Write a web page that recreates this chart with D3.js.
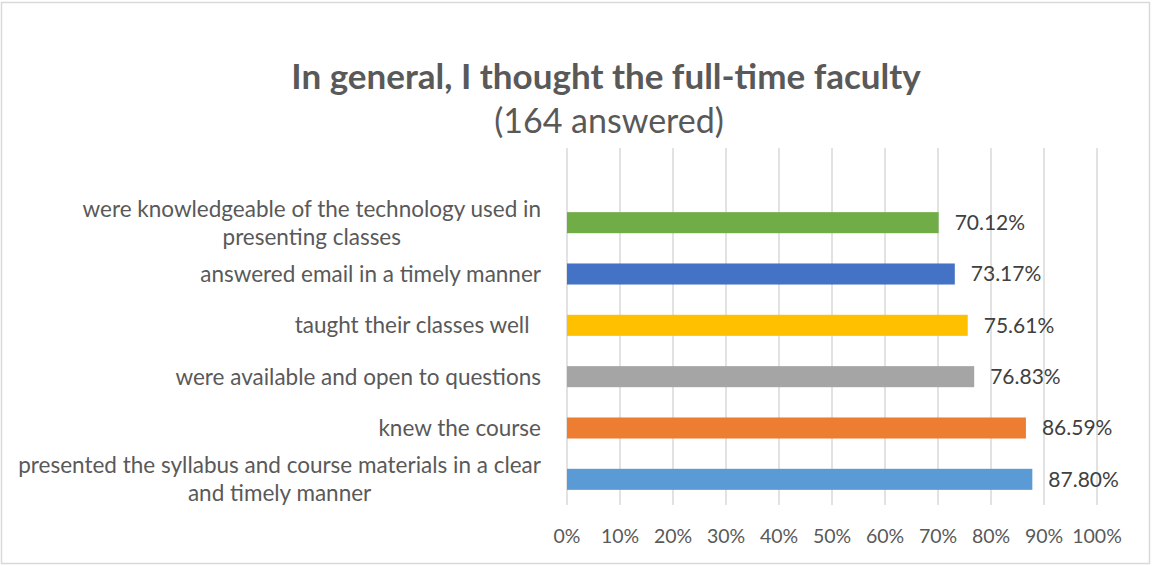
<!DOCTYPE html>
<html>
<head>
<meta charset="utf-8">
<script src="https://cdn.jsdelivr.net/npm/d3@7"></script>
<style>
  body { margin: 0; background: #fff; }
  text { font-family: Lato, "Open Sans", sans-serif; white-space: pre; }
</style>
</head>
<body>
<div id="chart"></div>
<script>
const W = 1152, H = 566;

// categories top to bottom, each split into its lines
const categories = [
  ["were knowledgeable of the technology used in", "presenting classes"],
  ["answered email in a timely manner"],
  ["taught their classes well  "],
  ["were available and open to questions"],
  ["knew the course"],
  ["presented the syllabus and course materials in a clear", "and timely manner"]
];
const values = [70.12, 73.17, 75.61, 76.83, 86.59, 87.80];
const colors = ["#70AD47", "#4472C4", "#FFC000", "#A5A5A5", "#ED7D31", "#5B9BD5"];
const ticks = [0, 10, 20, 30, 40, 50, 60, 70, 80, 90, 100];

const svg = d3.select("#chart")
    .append("svg")
    .attr("width", W)
    .attr("height", H);

svg.append("rect")
    .attr("x", 1.5).attr("y", 2.5)
    .attr("width", W - 4).attr("height", H - 5)
    .attr("fill", "#fff")
    .attr("stroke", "#D9D9D9")
    .attr("stroke-width", 1.5);

const x = d3.scaleLinear().domain([0, 100]).range([567, 1097]);
const y = d3.scaleBand()
    .domain(d3.range(categories.length))
    .range([197, 505])
    .paddingInner(0.59)
    .paddingOuter(0.295);

// gridlines
svg.append("g")
    .selectAll("line")
    .data(ticks)
    .join("line")
    .attr("x1", d => x(d)).attr("x2", d => x(d))
    .attr("y1", 148).attr("y2", 505)
    .attr("stroke", "#D9D9D9")
    .attr("stroke-width", 1.5);

// x tick labels
svg.append("g")
    .selectAll("text")
    .data(ticks)
    .join("text")
    .attr("x", d => x(d))
    .attr("y", 543)
    .attr("text-anchor", "middle")
    .attr("font-size", 19.5)
    .attr("fill", "#595959")
    .text(d => d + "%");

// bars
svg.append("g")
    .selectAll("rect")
    .data(values)
    .join("rect")
    .attr("x", x(0))
    .attr("y", (d, i) => y(i))
    .attr("width", d => x(d) - x(0))
    .attr("height", y.bandwidth())
    .attr("fill", (d, i) => colors[i]);

// value labels
svg.append("g")
    .selectAll("text")
    .data(values)
    .join("text")
    .attr("x", d => x(d) + 16)
    .attr("y", (d, i) => y(i) + y.bandwidth() / 2)
    .attr("dy", "0.35em")
    .attr("font-size", 21)
    .attr("fill", "#404040")
    .text(d => d.toFixed(2) + "%");

// category labels: block right-aligned, lines centred in block
const labelRight = 541, lineH = 28;
categories.forEach((lines, i) => {
  const g = svg.append("g");
  const cy = y(i) + y.bandwidth() / 2;
  const t = g.selectAll("text")
      .data(lines)
      .join("text")
      .attr("font-size", 22.5)
      .attr("fill", "#595959")
      .attr("text-anchor", "middle")
      .attr("dy", "0.35em")
      .attr("y", (d, j) => cy + (j - (lines.length - 1) / 2) * lineH)
      .text(d => d);
  const maxW = d3.max(t.nodes(), n => n.getComputedTextLength());
  t.attr("x", labelRight - maxW / 2);
});

// title
svg.append("text")
    .attr("x", 606).attr("y", 89)
    .attr("text-anchor", "middle")
    .attr("font-size", 35)
    .attr("font-weight", "bold")
    .attr("fill", "#595959")
    .text("In general, I thought the full-time faculty");

svg.append("text")
    .attr("x", 609).attr("y", 133)
    .attr("text-anchor", "middle")
    .attr("font-size", 34)
    .attr("fill", "#595959")
    .text("(164 answered)");
</script>
</body>
</html>
